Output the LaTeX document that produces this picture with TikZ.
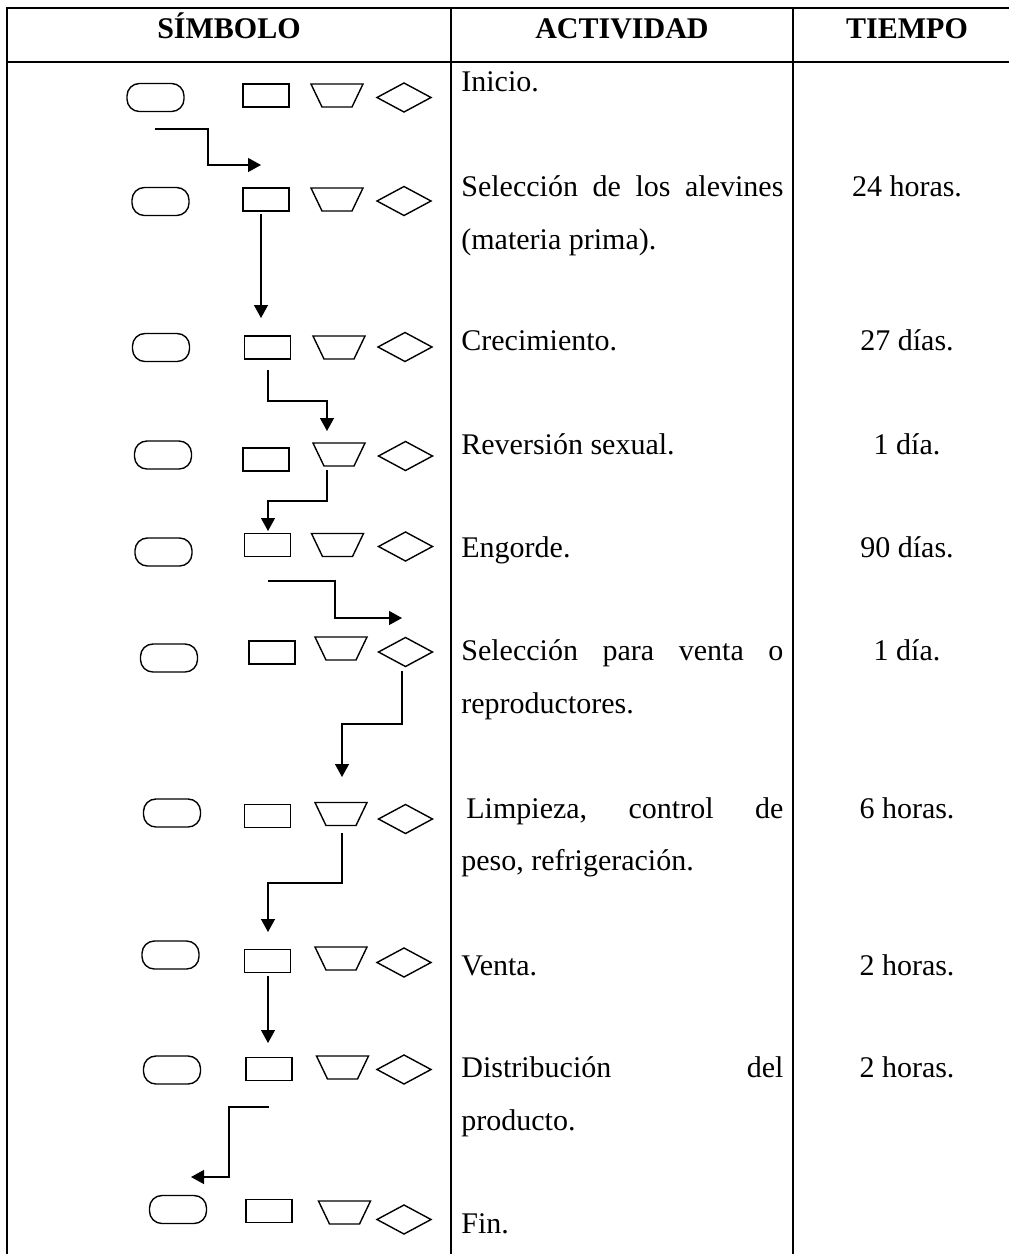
\documentclass[tikz,border=0pt]{standalone}
\usepackage{fontspec}
\setmainfont{Liberation Serif}
\usetikzlibrary{arrows.meta}

\begin{document}
\begin{tikzpicture}[x=0.5pt,y=-0.5pt,
  grid/.style={line width=1pt},
  sym/.style={draw,line width=0.7pt,inner sep=0pt,outer sep=0pt},
  term/.style={sym,rectangle,rounded corners=6.2pt,minimum width=28.5pt,minimum height=14pt},
  proc/.style={sym,rectangle,minimum width=23pt,minimum height=11.5pt},
  outline/.style={line width=0.7pt,line join=miter},
  flow/.style={line width=0.65pt,-{Triangle[length=6.5pt,width=7pt]}},
  head/.style={font=\fontsize{15}{18}\selectfont\bfseries,anchor=base,inner sep=0pt},
  act/.style={font=\fontsize{15}{18}\selectfont,anchor=base west,inner sep=0pt},
  tim/.style={font=\fontsize{15}{18}\selectfont,anchor=base,inner sep=0pt},
]
\useasboundingbox (0,0) rectangle (1009,1254);

% table frame
\draw[grid] (7,1254) -- (7,8) -- (1009,8);
\draw[grid] (7,62) -- (1009,62);
\draw[grid] (451,8) -- (451,1254);
\draw[grid] (793,8) -- (793,1254);

% header
\node[head] (hsim) at (229,38) {SÍMBOLO};
\node[head] (hact) at (622,38) {ACTIVIDAD};
\node[head] (htie) at (907,38) {TIEMPO};

% symbol rows: terminal, process, storage (inverted trapezium), decision
\foreach \i/\ox/\oy/\rx/\ry/\tx/\ty/\dx/\dy in {
  1/155.5/97.5/266/95.5/337/95.5/404/97.5,
  2/160.5/201.5/266/199.5/337/199.5/404/201,
  3/161/347.5/267.5/347.5/339/347.5/405/347,
  4/163/455/266/459.5/339/454.5/405.5/456,
  5/163.5/552/267.5/545/337.5/545/405.5/546.5,
  6/169/658/272/652.5/341/648.5/405.5/652,
  7/172/813/267.5/816/341/814/405.5/819,
  8/170.5/955/267.5/961/341/958.5/404/962.5,
  9/172/1070/269/1069/342.5/1067.5/404/1069.5,
  10/178/1209.5/269/1211/344.5/1212.5/404/1219.5}{
  \node[term]  (o\i) at (\ox,\oy) {};
  \node[proc]  (r\i) at (\rx,\ry) {};
  \coordinate (s\i) at (\tx,\ty);
  \coordinate (d\i) at (\dx,\dy);
  \draw[outline] (s\i) ++(-26,-11.5) -- ++(52,0) -- ++(-11,23) -- ++(-30,0) -- cycle;
  \draw[outline] (d\i) ++(-27,0) -- ++(27,-14.5) -- ++(27,14.5) -- ++(-27,14.5) -- cycle;
}

% connector end points
\coordinate (a1s) at (155,129);  \coordinate (a1e) at (261,165);
\coordinate (a2s) at (261,214);  \coordinate (a2e) at (261,318);
\coordinate (a3s) at (268,370);  \coordinate (a3e) at (327,431);
\coordinate (a4s) at (327,470);  \coordinate (a4e) at (268,531);
\coordinate (a5s) at (268,581);  \coordinate (a5e) at (402,618);
\coordinate (a6s) at (402,671);  \coordinate (a6e) at (342,777);
\coordinate (a7s) at (342,833);  \coordinate (a7e) at (268,932);
\coordinate (a8s) at (268,976);  \coordinate (a8e) at (268,1043);
\coordinate (a9s) at (269,1107); \coordinate (a9e) at (191,1177);

% flow connectors
\draw[flow] (a1s) -- ++(53,0) |- (a1e);
\draw[flow] (a2s) -- (a2e);
\draw[flow] (a3s) -- ++(0,31) -| (a3e);
\draw[flow] (a4s) -- ++(0,31) -| (a4e);
\draw[flow] (a5s) -- ++(67,0) |- (a5e);
\draw[flow] (a6s) -- ++(0,53) -| (a6e);
\draw[flow] (a7s) -- ++(0,50) -| (a7e);
\draw[flow] (a8s) -- (a8e);
\draw[flow] (a9s) -- ++(-40,0) |- (a9e);

% activities
\node[act] (c1)  at (461,91.5) {Inicio.};
\node[act] (c2a) at (461,196)  {\hbox to 161pt{Selección\hfill de\hfill los\hfill alevines}};
\node[act] (c2b) at (461,249)  {(materia prima).};
\node[act] (c3)  at (461,350)  {Crecimiento.};
\node[act] (c4)  at (461,454.5){Reversión sexual.};
\node[act] (c5)  at (461,557)  {Engorde.};
\node[act] (c6a) at (461,660)  {\hbox to 161pt{Selección\hfill para\hfill venta\hfill o}};
\node[act] (c6b) at (461,713)  {reproductores.};
\node[act] (c7a) at (466,818)  {\hbox to 158.5pt{Limpieza,\hfill control\hfill de}};
\node[act] (c7b) at (461,870)  {peso, refrigeración.};
\node[act] (c8)  at (461,975)  {Venta.};
\node[act] (c9a) at (461,1077) {\hbox to 161pt{Distribución\hfill del}};
\node[act] (c9b) at (461,1130) {producto.};
\node[act] (c10) at (461,1233) {Fin.};

% times
\node[tim] (m2) at (907,196)  {24 horas.};
\node[tim] (m3) at (907,350)  {27 días.};
\node[tim] (m4) at (907,454.5){1 día.};
\node[tim] (m5) at (907,557)  {90 días.};
\node[tim] (m6) at (907,660)  {1 día.};
\node[tim] (m7) at (907,818)  {6 horas.};
\node[tim] (m8) at (907,975)  {2 horas.};
\node[tim] (m9) at (907,1077) {2 horas.};
\end{tikzpicture}
\end{document}
